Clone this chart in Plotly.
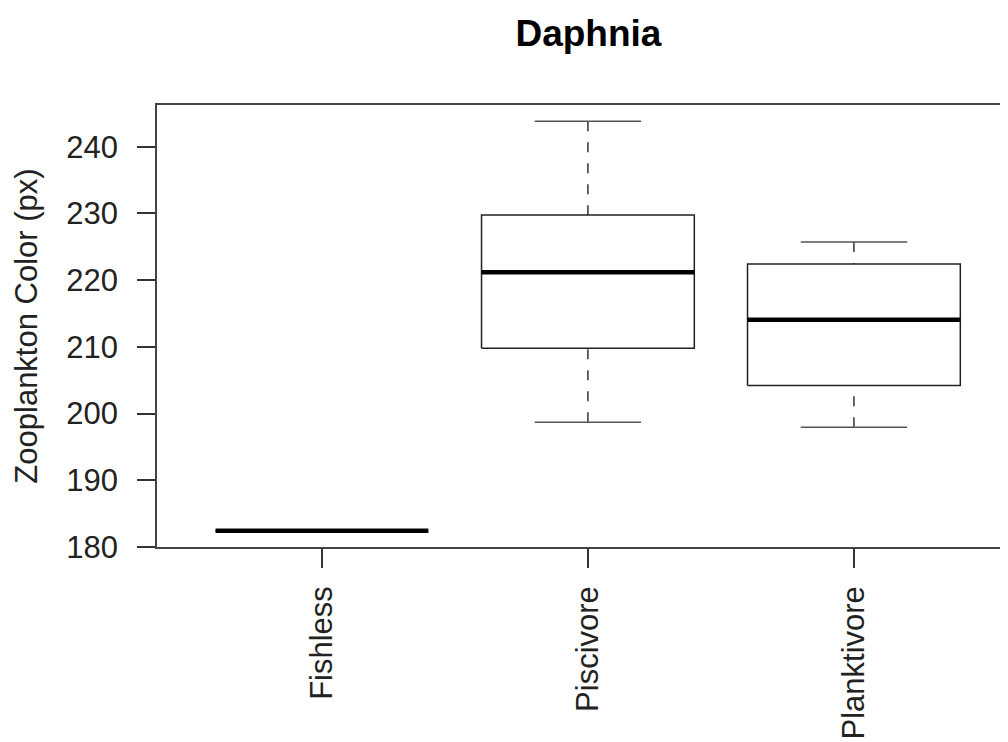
import plotly.graph_objects as go

categories = ["Fishless", "Piscivore", "Planktivore"]
lower_whisker = [182.45, 198.7, 197.95]
q1_values = [182.45, 209.8, 204.2]
median_values = [182.45, 221.2, 214.05]
q3_values = [182.45, 229.75, 222.4]
upper_whisker = [182.45, 243.8, 225.7]
y_ticks = [180, 190, 200, 210, 220, 230, 240]

FONT = "Liberation Sans, Arial, Helvetica, sans-serif"
BOX_HALF = 0.4
CAP_HALF = 0.2

fig = go.Figure()
for i, cat in enumerate(categories):
    x = i + 1
    lo, q1, med, q3, hi = lower_whisker[i], q1_values[i], median_values[i], q3_values[i], upper_whisker[i]
    # whiskers (dashed), drawn from cap towards the box
    for a, b in ((hi, q3), (lo, q1)):
        if a != b:
            fig.add_trace(go.Scatter(x=[x, x], y=[a, b], mode="lines",
                                     line=dict(color="#333333", width=1.5, dash="10px,11px"),
                                     showlegend=False, hoverinfo="skip"))
    # caps
    for v in (hi, lo):
        fig.add_trace(go.Scatter(x=[x - CAP_HALF, x + CAP_HALF], y=[v, v], mode="lines",
                                 line=dict(color="#555555", width=1.5),
                                 showlegend=False, hoverinfo="skip"))
    # box
    fig.add_trace(go.Scatter(x=[x - BOX_HALF, x + BOX_HALF, x + BOX_HALF, x - BOX_HALF, x - BOX_HALF],
                             y=[q1, q1, q3, q3, q1], mode="lines",
                             line=dict(color="#222222", width=1.5),
                             showlegend=False, name=cat))
    # median
    fig.add_trace(go.Scatter(x=[x - BOX_HALF, x + BOX_HALF], y=[med, med], mode="lines",
                             line=dict(color="#000000", width=4.5),
                             showlegend=False, hoverinfo="skip"))

# page has an 8px body margin, so the figure is 8px smaller and shifted
fig.update_layout(
    width=1000, height=734,
    margin=dict(l=149, r=0, t=97, b=195),
    paper_bgcolor="white", plot_bgcolor="white",
    font=dict(family=FONT, color="#222222", size=31),
    title=dict(text="Daphnia", x=0.507, xref="paper", xanchor="center",
               y=1 - 25 / 734, yref="container", yanchor="middle",
               font=dict(family=FONT, size=37, color="#000000", weight="bold")),
    showlegend=False,
)
fig.update_xaxes(
    range=[0.38, 0.38 + 851 / 266], tickvals=[1, 2, 3], ticktext=categories,
    tickangle=-90, ticks="outside", ticklen=19, tickwidth=1.5, tickcolor="#333333",
    showline=True, linecolor="#444444", linewidth=1.5, mirror=True,
    showgrid=False, zeroline=False, ticklabelstandoff=6,
    tickfont=dict(size=31, color="#222222"),
)
fig.update_yaxes(
    range=[180, 246.25], tickvals=y_ticks, ticks="outside", ticklen=18, tickwidth=1.5,
    tickcolor="#333333", showline=True, linecolor="#444444", linewidth=1.5, mirror=False,
    showgrid=False, zeroline=False, ticklabelstandoff=13,
    tickfont=dict(size=31, color="#222222"),
    title=dict(text="Zooplankton Color (px)", standoff=19, font=dict(size=31, color="#222222")),
)

fig.write_html("out.html")
